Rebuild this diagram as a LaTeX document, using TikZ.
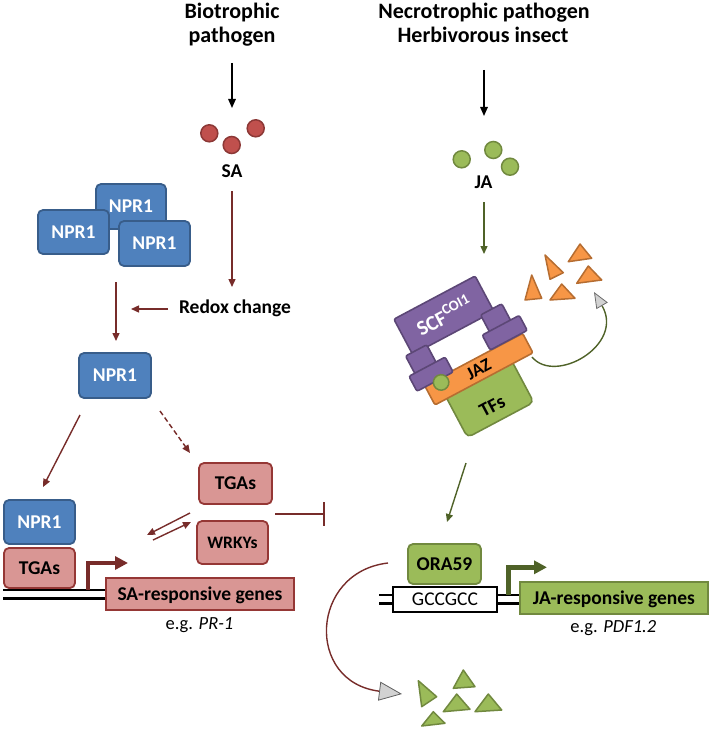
\documentclass[tikz,border=0pt]{standalone}
\usepackage{fontspec}
\setmainfont{Carlito}
\usetikzlibrary{arrows.meta}
\definecolor{bluef}{HTML}{4F81BD}
\definecolor{bluel}{HTML}{385D8A}
\definecolor{pinkf}{HTML}{D99694}
\definecolor{pinkl}{HTML}{953735}
\definecolor{redf}{HTML}{C0504D}
\definecolor{redl}{HTML}{8C3836}
\definecolor{greenf}{HTML}{9BBB59}
\definecolor{greenl}{HTML}{71893F}
\definecolor{purf}{HTML}{8064A2}
\definecolor{purl}{HTML}{5C4776}
\definecolor{oranf}{HTML}{F79646}
\definecolor{oranl}{HTML}{B66D31}
\definecolor{brownar}{HTML}{772C2A}
\definecolor{greenar}{HTML}{4F6228}
\begin{document}
\begin{tikzpicture}[x=1pt,y=-1pt,
 every node/.style={inner sep=0pt},
 box/.style={rounded corners=5pt, line width=1.8pt, text height=12.6pt, text depth=0pt, font=\bfseries\fontsize{19.5}{21}\selectfont},
 bluebox/.style={box, draw=bluel, fill=bluef, text=white},
 pinkbox/.style={box, draw=pinkl, fill=pinkf},
 title/.style={font=\bfseries\fontsize{22}{24}\selectfont},
 lbl/.style={font=\bfseries\fontsize{19.5}{21}\selectfont},
 eglbl/.style={font=\fontsize{18.5}{20}\selectfont},
 sacirc/.style={circle, minimum size=17pt, line width=1.5pt, draw=redl, fill=redf},
 jacirc/.style={circle, minimum size=17pt, line width=1.5pt, draw=greenl, fill=greenf},
 blkar/.style={draw=black, line width=1.5pt, -{Triangle[length=9pt,width=7.5pt]}},
 brar/.style={draw=brownar, line width=1.4pt, -{Triangle[length=8pt,width=7pt]}},
 grar/.style={draw=greenar, line width=1.4pt, -{Triangle[length=8pt,width=7pt]}},
 tri/.style={line width=1.5pt, line join=round},
 otri/.style={tri, draw=oranl, fill=oranf},
 gtri/.style={tri, draw=greenl, fill=greenf},
 purp/.style={draw=purl, fill=purf, line width=1.6pt, rounded corners=2pt, transform shape},
 dna/.style={line width=2.4pt, draw=black},
 prom/.style={line width=4.5pt, -{Triangle[length=13pt,width=13pt]}},
]
\useasboundingbox (0,0) rectangle (711,733);

% titles
\node[title, anchor=base] (t1a) at (232,18.5) {Biotrophic};
\node[title, anchor=base] (t1b) at (232,43) {pathogen};
\node[title, anchor=base] (t2a) at (484,18.5) {Necrotrophic pathogen};
\node[title, anchor=base] (t2b) at (483,43) {Herbivorous insect};

\coordinate (b1s) at (232,63); \coordinate (b1e) at (232,108);
\draw[blkar] (b1s) -- (b1e);
\coordinate (b2s) at (484,70); \coordinate (b2e) at (484,116);
\draw[blkar] (b2s) -- (b2e);

% SA
\node[sacirc] (sa1) at (209.3,133.3) {};
\node[sacirc] (sa2) at (231.7,145) {};
\node[sacirc] (sa3) at (255.7,128.3) {};
\node[lbl] (salbl) at (232,171) {SA};

% JA
\node[jacirc] (ja1) at (461.7,159.3) {};
\node[jacirc] (ja2) at (493.3,150) {};
\node[jacirc] (ja3) at (510,166.7) {};
\node[lbl] (jalbl) at (483.5,182) {JA};

% NPR1 oligomer
\node[bluebox, minimum width=70pt, minimum height=45pt] (np1) at (131,206.5) {NPR1};
\node[bluebox, minimum width=71pt, minimum height=44pt] (np2) at (73.5,232) {NPR1};
\node[bluebox, minimum width=71pt, minimum height=45pt] (np3) at (154.5,243.5) {NPR1};

% redox
\coordinate (r1s) at (232,191); \coordinate (r1e) at (232,287);
\draw[brar] (r1s) -- (r1e);
\node[lbl, anchor=base] (redox) at (235,313.3) {Redox change};
\coordinate (r2s) at (168,309); \coordinate (r2e) at (131,309);
\draw[brar] (r2s) -- (r2e);
\coordinate (r3s) at (116,282); \coordinate (r3e) at (116,341);
\draw[brar] (r3s) -- (r3e);

\node[bluebox, minimum width=72pt, minimum height=45pt] (npm) at (115,375.5) {NPR1};
\coordinate (r4s) at (80,415); \coordinate (r4e) at (43,487);
\draw[brar] (r4s) -- (r4e);
\coordinate (r5s) at (160,411); \coordinate (r5e) at (190,453);
\draw[brar, dash pattern=on 5pt off 3pt] (r5s) -- (r5e);

% TGAs / WRKYs
\node[pinkbox, minimum width=73pt, minimum height=41pt] (tgau) at (235.5,483.5) {TGAs};
\node[pinkbox, minimum width=71pt, minimum height=43pt, font=\bfseries\fontsize{17.5}{19}\selectfont, text height=11.3pt] (wrky) at (232.5,542.5) {WRKYs};
\coordinate (d1s) at (190,513); \coordinate (d1e) at (147,535);
\draw[brar] (d1s) -- (d1e);
\coordinate (d2s) at (153,540); \coordinate (d2e) at (191,522);
\draw[brar] (d2s) -- (d2e);
\coordinate (inhs) at (275,514); \coordinate (inhe) at (325,514);
\draw[draw=brownar, line width=2pt, -{Bar[width=24pt]}] (inhs) -- (inhe);

% SA promoter
\node[bluebox, minimum width=71pt, minimum height=44pt] (npl) at (39.5,522) {NPR1};
\node[pinkbox, minimum width=71pt, minimum height=40pt] (tgal) at (39.5,568) {TGAs};
\coordinate (dsa1a) at (3,590); \coordinate (dsa1b) at (106,590);
\coordinate (dsa2a) at (3,598.3); \coordinate (dsa2b) at (106,598.3);
\draw[dna] (dsa1a) -- (dsa1b);
\draw[dna] (dsa2a) -- (dsa2b);
\coordinate (psa1) at (88,590); \coordinate (psa2) at (88,563); \coordinate (psa3) at (128,563);
\draw[prom, draw=brownar] (psa1) -- (psa2) -- (psa3);
\node[pinkbox, rounded corners=0pt, line width=2pt, minimum width=188pt, minimum height=32pt] (sagenes) at (200,594) {SA-responsive genes};
\node[eglbl, anchor=base] (egpr) at (199.5,629) {e.g. \textit{PR-1}};

% JA branch
\coordinate (g1s) at (484,202); \coordinate (g1e) at (484,254);
\draw[grar] (g1s) -- (g1e);

\begin{scope}[shift={(477,369)}, rotate=28]
 \node[draw=greenl, fill=greenf, line width=1.6pt, rounded corners=5pt, minimum width=75pt, minimum height=50pt, transform shape] (tfs) at (-3,31) {};
 \node[lbl, transform shape] (tfslbl) at (-4,40) {TFs};
 \node[draw=oranl, fill=oranf, line width=1.6pt, rounded corners=2pt, minimum width=111pt, minimum height=22pt, transform shape, font=\bfseries\fontsize{18}{20}\selectfont, text height=11.5pt, text depth=0pt] (jaz) at (1.5,1) {JAZ};
 \node[purp, minimum width=92pt, minimum height=40pt, text=white, font=\bfseries\fontsize{21}{23}\selectfont] (scf) at (-4,-63) {SCF\textsuperscript{COI1}};
 \node[purp, minimum width=24pt, minimum height=20pt] (lb) at (-45,-35) {};
 \node[purp, minimum width=24pt, minimum height=20pt] (rb) at (40.5,-36) {};
 \node[purp, minimum width=41pt, minimum height=17pt] (lf) at (-43,-17) {};
 \node[purp, minimum width=42pt, minimum height=17pt] (rf) at (41.5,-19) {};
 \node[jacirc, minimum size=15.5pt, transform shape] (jab) at (-38,-5) {};
 \coordinate (jazr) at (58,-1);
\end{scope}

% orange triangles
\draw[otri] (545,255) -- (563.3,272.7) -- (550,279.3) -- cycle;
\draw[otri] (568.3,261.7) -- (591.7,258.3) -- (580,244) -- cycle;
\draw[otri] (576.7,283.3) -- (601.7,280) -- (588.3,266) -- cycle;
\draw[otri] (550,300) -- (575,298.3) -- (561.7,284) -- cycle;
\draw[otri] (525,300) -- (541.7,298.3) -- (531.7,275) -- cycle;

\coordinate (cvs) at (532,357); \coordinate (cve) at (594,292);
\draw[draw=greenar, line width=1.4pt, -{Triangle[length=16pt,width=13pt,fill=gray!35,color=gray!85!black,line width=0.8pt]}] (cvs) .. controls (555,385) and (625,345) .. (cve);

\coordinate (g2s) at (466,463); \coordinate (g2e) at (447,522);
\draw[grar] (g2s) -- (g2e);

% JA promoter
\node[box, draw=greenl, fill=greenf, minimum width=73pt, minimum height=40pt] (ora) at (444.5,564) {ORA59};
\coordinate (dja1a) at (379,595); \coordinate (dja1b) at (393,595);
\coordinate (dja2a) at (379,603.3); \coordinate (dja2b) at (393,603.3);
\draw[dna] (dja1a) -- (dja1b);
\draw[dna] (dja2a) -- (dja2b);
\coordinate (dja3a) at (497,595); \coordinate (dja3b) at (520,595);
\coordinate (dja4a) at (497,603.3); \coordinate (dja4b) at (520,603.3);
\draw[dna] (dja3a) -- (dja3b);
\draw[dna] (dja4a) -- (dja4b);
\node[draw=black, fill=white, line width=2pt, minimum width=104pt, minimum height=25pt, text height=12.6pt, text depth=0pt, font=\fontsize{19.5}{21}\selectfont] (gcc) at (445,599.5) {GCCGCC};
\coordinate (pja1) at (508.3,595); \coordinate (pja2) at (508.3,567.3); \coordinate (pja3) at (547,567.3);
\draw[prom, draw=greenar] (pja1) -- (pja2) -- (pja3);
\node[box, rounded corners=0pt, line width=2pt, draw=greenl, fill=greenf, minimum width=188pt, minimum height=32pt] (jagenes) at (614,598) {JA-responsive genes};
\node[eglbl, anchor=base] (egpdf) at (613.3,632) {e.g. \textit{PDF1.2}};

% brown curved arrow
\coordinate (bcs) at (388,563); \coordinate (bce) at (402,694);
\draw[draw=brownar, line width=1.4pt, -{Triangle[length=23pt,width=19pt,fill=gray!35,color=gray!75!black,line width=0.8pt]}] (bcs) .. controls (310,572) and (305,682) .. (bce);

% green triangles
\draw[gtri] (418.3,680.7) -- (436.7,696.7) -- (421.7,706.7) -- cycle;
\draw[gtri] (453.3,688.3) -- (475,686.7) -- (463.3,670) -- cycle;
\draw[gtri] (443.3,711.7) -- (470,709.3) -- (456.7,694) -- cycle;
\draw[gtri] (475,711.7) -- (501.7,710) -- (488.3,694) -- cycle;
\draw[gtri] (421.7,726) -- (445,723.3) -- (433.3,711.7) -- cycle;
\end{tikzpicture}
\end{document}
